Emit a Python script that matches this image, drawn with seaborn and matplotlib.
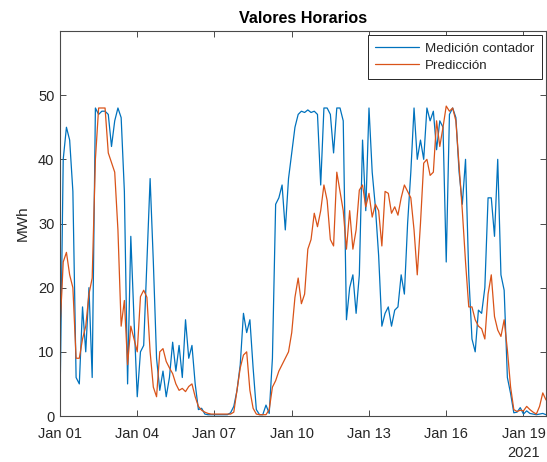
import numpy as np
import pandas as pd
import matplotlib
matplotlib.use("Agg")
import matplotlib.pyplot as plt
import matplotlib.dates as mdates
import matplotlib.transforms as mtransforms
import seaborn as sns

# ---- data (3-hourly samples, starting 2021-01-01 00:00) ----
medicion = [
    2, 40, 45, 43, 35, 6, 5, 17, 10, 20, 6, 48, 47, 47.5, 47.5, 47, 42, 46,
    48, 46.5, 35, 5, 28, 15, 3, 10, 11, 24, 37, 24, 9, 4, 7, 3, 6, 11.5,
    7, 11, 6, 15, 9, 11, 5, 1, 1.2, 0.3, 0.2, 0.2, 0.2, 0.2, 0.2, 0.2, 0.2, 0.5,
    1.5, 4, 8, 16, 13, 15, 7.5, 1, 0.2, 0.2, 1.7, 0.4, 9, 33, 34, 36, 29, 37,
    41, 45, 47, 47.5, 47.3, 47.7, 47.3, 47.5, 47, 36, 48, 48, 47, 41, 48, 48,
    46, 15, 20, 22, 16, 22, 43, 32, 48, 38, 32.5, 25, 14, 16, 17, 14, 16.5, 17,
    22, 19, 30, 38, 48, 40, 43, 40, 48, 46, 47.5, 41.5, 46, 45, 24, 47, 48, 46.5,
    38, 33, 40, 22, 12, 10, 16.5, 16, 20, 34, 34, 28, 40, 22, 19.6, 6, 3.5, 0.5,
    0.6, 1.3, 0.3, 0.8, 0.4, 0.3, 0.2, 0.3, 0.4, 0.2,
]
prediccion = [
    13.5, 24, 25.5, 22, 20, 9, 9, 12, 14, 19, 21.5, 40, 48, 48, 48, 41, 39.5, 38,
    29, 14, 18, 8, 14, 12, 10, 18.6, 19.6, 18.5, 10, 4.5, 3, 10, 10.5, 8.5, 7.5, 6.6,
    5, 4, 4.3, 3.8, 4.6, 5, 3, 1.5, 0.9, 0.6, 0.4, 0.3, 0.3, 0.3, 0.3, 0.3, 0.3, 0.3,
    0.6, 4, 7.5, 9.5, 10, 4, 1.2, 0.3, 0.2, 0.2, 0.2, 1, 4.5, 5.5, 7, 8,
    9, 10, 13, 18.5, 21.5, 17.5, 19, 26, 27.5, 31.6, 29.5, 32, 36, 33.6, 27.5, 26.5,
    38, 35, 32, 26, 32, 26, 29, 35.2, 36, 32.6, 34.7, 31, 33, 32, 26.5, 35,
    34.7, 31.6, 32.6, 31.3, 34, 36, 35, 34, 29, 22, 30, 39.4, 40, 37.5, 38, 46,
    42, 45, 48.3, 47.5, 48, 46, 39, 32, 24, 17, 17, 15, 14, 13.6, 12, 19,
    22, 15.5, 13.4, 12.4, 15, 10.3, 4.5, 1, 0.7, 0.9, 0.8, 1.5, 1, 0.6, 0.3, 1.5,
    3.6, 2.5,
]
fechas = pd.date_range("2021-01-01 00:00", periods=len(medicion), freq="3h")
tick_days = [1, 4, 7, 10, 13, 16, 19]
y_ticks = [0, 10, 20, 30, 40, 50]
series_names = ["Medición contador", "Predicción"]

df = pd.DataFrame({
    "fecha": np.concatenate([fechas, fechas]),
    "valor": medicion + prediccion,
    "serie": [series_names[0]] * len(medicion) + [series_names[1]] * len(prediccion),
})

sns.set_style("white")
plt.rcParams["font.family"] = ["Liberation Sans", "DejaVu Sans"]

fig = plt.figure(figsize=(5.47, 4.62), dpi=100)
ax = fig.add_axes([60 / 547, 1 - 416 / 462, 486 / 547, 385 / 462])

sns.lineplot(data=df, x="fecha", y="valor", hue="serie",
             palette=["#0072BD", "#D95319"], linewidth=0.9, ax=ax)

ax.set_xlim(fechas[0], fechas[-1])
ax.set_ylim(0, 60)
ax.set_yticks(y_ticks)
ax.xaxis.set_major_locator(mdates.DayLocator(bymonthday=tick_days))
ax.xaxis.set_major_formatter(mdates.DateFormatter("%b %d"))

axcol = "#4a4a4a"
for s in ax.spines.values():
    s.set_color(axcol)
    s.set_linewidth(0.8)
    s.set_visible(True)
ax.tick_params(direction="in", length=4, width=0.7, colors=axcol,
               labelcolor="#262626", labelsize=10.5, top=True, right=True,
               bottom=True, left=True)
ax.tick_params(axis="x", pad=8)
ax.tick_params(axis="y", pad=4)

ax.set_xlabel("")
ax.set_ylabel("MWh", fontsize=11, color="#262626", labelpad=6)
ax.set_title("Valores Horarios", fontsize=11.6, fontweight="bold", color="#000000", pad=6)

trans = mtransforms.blended_transform_factory(ax.transData, ax.transAxes)
ax.text(mdates.date2num(pd.Timestamp("2021-01-19")), -0.077, "2021",
        transform=trans, ha="center", va="top", fontsize=10.5, color="#262626")

leg = ax.legend(loc="upper right", fontsize=9.6, frameon=True, fancybox=False,
                edgecolor="#262626", framealpha=1, borderaxespad=0.3,
                handlelength=3.3, borderpad=0.55, labelspacing=0.35,
                handletextpad=0.45, title=None)
leg.get_frame().set_linewidth(0.7)

fig.savefig("out.png", dpi=100)
